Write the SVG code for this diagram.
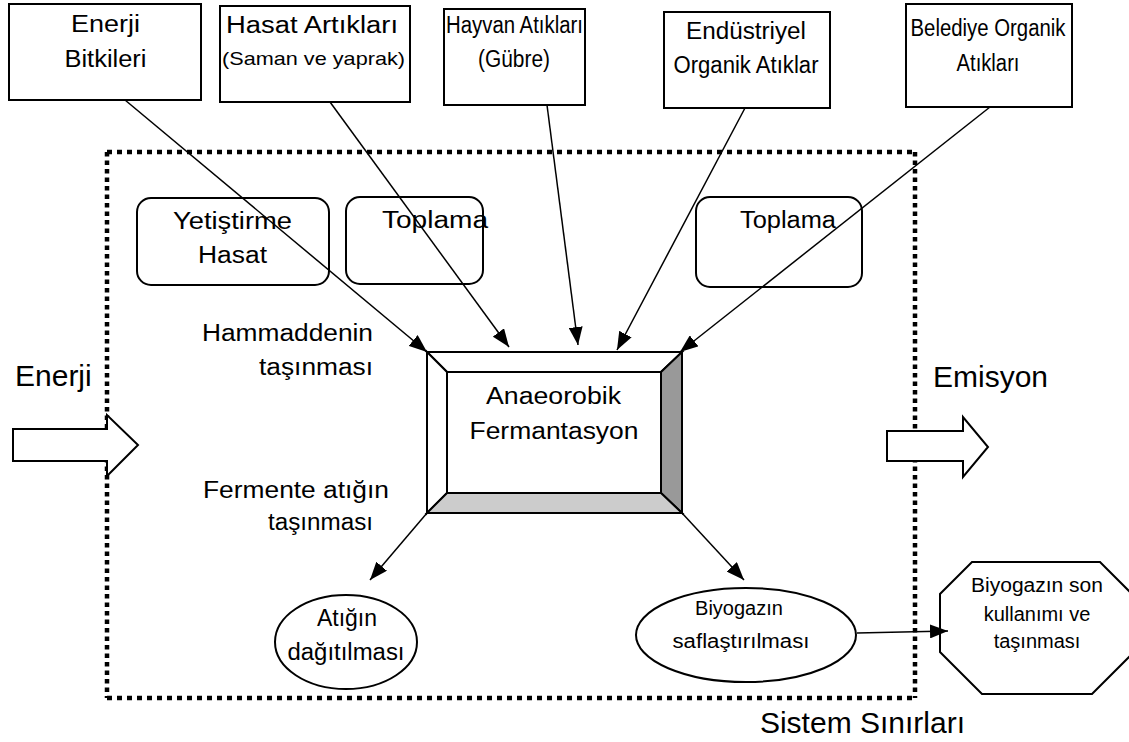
<svg xmlns="http://www.w3.org/2000/svg" width="1129" height="742" viewBox="0 0 1129 742">
<style>
.box{fill:#fff;stroke:#000;stroke-width:2}
.t{font-family:"Liberation Sans",Arial,sans-serif;font-size:23px;fill:#000;text-anchor:middle}
.s{font-size:19px}
.o{font-size:20px}
.big{font-family:"Liberation Sans",Arial,sans-serif;font-size:30px;fill:#000}
.conn line{stroke:#000;stroke-width:1.5;marker-end:url(#ah)}
.dot{stroke:#000;stroke-width:4.5;fill:none}
.bev{stroke:#000;stroke-width:2;stroke-linejoin:miter}
</style>
<defs>
<marker id="ah" markerUnits="userSpaceOnUse" markerWidth="20" markerHeight="14" refX="18" refY="7" orient="auto"><path d="M0,0 L18,7 L0,14 z" fill="#000"/></marker>
</defs>
<rect width="1129" height="742" fill="#fff"/>
<g id="boundary">
<line class="dot" x1="107" y1="152" x2="915" y2="152" stroke-dasharray="5 5"/>
<line class="dot" x1="107" y1="698" x2="915" y2="698" stroke-dasharray="5 5"/>
<line class="dot" x1="107" y1="152" x2="107" y2="698" stroke-dasharray="4.5 4"/>
<line class="dot" x1="915" y1="152" x2="915" y2="698" stroke-dasharray="4.5 4"/>
</g>
<g id="n-enerji-bitkileri"><rect class="box" x="9" y="4" width="192" height="96"/>
<text class="t" x="105.5" y="32" textLength="69" lengthAdjust="spacingAndGlyphs">Enerji</text>
<text class="t" x="105.5" y="67" textLength="82" lengthAdjust="spacingAndGlyphs">Bitkileri</text></g>
<g id="n-hasat"><rect class="box" x="220" y="6" width="190" height="96"/>
<text class="t" x="312" y="33" textLength="172" lengthAdjust="spacingAndGlyphs">Hasat Artıkları</text>
<text class="t s" x="313.5" y="65" textLength="183" lengthAdjust="spacingAndGlyphs">(Saman ve yaprak)</text></g>
<g id="n-hayvan"><rect class="box" x="444" y="9" width="141" height="96"/>
<text class="t" x="514.5" y="33" textLength="137" lengthAdjust="spacingAndGlyphs">Hayvan Atıkları</text>
<text class="t" x="514" y="67" textLength="72" lengthAdjust="spacingAndGlyphs">(Gübre)</text></g>
<g id="n-endustriyel"><rect class="box" x="664" y="12" width="166" height="96"/>
<text class="t" x="746" y="39" textLength="120" lengthAdjust="spacingAndGlyphs">Endüstriyel</text>
<text class="t" x="746" y="73" textLength="145" lengthAdjust="spacingAndGlyphs">Organik Atıklar</text></g>
<g id="n-belediye"><rect class="box" x="906" y="4" width="166" height="103"/>
<text class="t" x="988" y="36" textLength="155" lengthAdjust="spacingAndGlyphs">Belediye Organik</text>
<text class="t" x="988" y="71" textLength="63" lengthAdjust="spacingAndGlyphs">Atıkları</text></g>
<g id="n-yetistirme"><rect class="box" x="137" y="198" width="192" height="87" rx="14"/>
<text class="t" x="232.5" y="229" textLength="119" lengthAdjust="spacingAndGlyphs">Yetiştirme</text>
<text class="t" x="232.5" y="263" textLength="69" lengthAdjust="spacingAndGlyphs">Hasat</text></g>
<g id="n-toplama1"><rect class="box" x="346" y="197" width="137" height="87" rx="14"/>
<text class="t" x="435" y="228" textLength="106" lengthAdjust="spacingAndGlyphs">Toplama</text></g>
<g id="n-toplama2"><rect class="box" x="696" y="197" width="166" height="90" rx="14"/>
<text class="t" x="788" y="228" textLength="96" lengthAdjust="spacingAndGlyphs">Toplama</text></g>
<g id="l-hammadde">
<text class="t" style="text-anchor:end" x="373" y="341" textLength="171" lengthAdjust="spacingAndGlyphs">Hammaddenin</text>
<text class="t" style="text-anchor:end" x="373" y="375" textLength="114" lengthAdjust="spacingAndGlyphs">taşınması</text></g>
<g id="l-fermente">
<text class="t" style="text-anchor:start" x="203" y="498" textLength="186" lengthAdjust="spacingAndGlyphs">Fermente atığın</text>
<text class="t" style="text-anchor:start" x="268" y="530" textLength="105" lengthAdjust="spacingAndGlyphs">taşınması</text></g>
<g id="n-fermantasyon">
<polygon class="bev" fill="#fff" points="427,352 682,352 661,372 447,372"/>
<polygon class="bev" fill="#fff" points="427,352 447,372 447,493 427,513"/>
<polygon class="bev" fill="#999" points="682,352 682,513 661,493 661,372"/>
<polygon class="bev" fill="#ccc" points="427,513 682,513 661,493 447,493"/>
<rect class="box" x="447" y="372" width="214" height="121"/>
<text class="t" x="553.5" y="404" textLength="135" lengthAdjust="spacingAndGlyphs">Anaeorobik</text>
<text class="t" x="554" y="439" textLength="169" lengthAdjust="spacingAndGlyphs">Fermantasyon</text></g>
<g id="n-atik"><ellipse class="box" cx="346" cy="642" rx="71" ry="47"/>
<text class="t" x="347" y="626">Atığın</text>
<text class="t" x="346" y="660" textLength="117" lengthAdjust="spacingAndGlyphs">dağıtılması</text></g>
<g id="n-biyogaz"><ellipse class="box" cx="746" cy="635" rx="110" ry="47"/>
<text class="t o" x="739" y="615">Biyogazın</text>
<text class="t o" x="741" y="648" textLength="137" lengthAdjust="spacingAndGlyphs">saflaştırılması</text></g>
<g id="n-son"><polygon class="box" points="972,562 1100,562 1134,596 1134,652 1092,694 982,694 940,652 940,594"/>
<text class="t o" x="1037" y="592" textLength="132" lengthAdjust="spacingAndGlyphs">Biyogazın son</text>
<text class="t o" x="1037" y="621">kullanımı ve</text>
<text class="t o" x="1037" y="648">taşınması</text></g>
<g id="n-enerji-in"><polygon class="box" points="13,429 107,429 107,415 138,445 107,476 107,461 13,461"/>
<text class="big" x="15" y="386">Enerji</text></g>
<g id="n-emisyon"><polygon class="box" points="887,431 963,431 963,417 988,447 963,477 963,461 887,461"/>
<text class="big" x="933" y="387">Emisyon</text></g>
<g id="l-sistem"><text class="big" x="965" y="733" style="text-anchor:end">Sistem Sınırları</text></g>
<g class="conn" id="connectors">
<line x1="125" y1="100" x2="427" y2="352"/>
<line x1="330" y1="102" x2="509" y2="347"/>
<line x1="547" y1="105" x2="578" y2="345"/>
<line x1="745" y1="108" x2="617" y2="350"/>
<line x1="990" y1="107" x2="680" y2="352"/>
<line x1="427" y1="513" x2="370" y2="580"/>
<line x1="682" y1="513" x2="744" y2="580"/>
<line x1="857" y1="633" x2="948" y2="631"/>
</g>
</svg>
